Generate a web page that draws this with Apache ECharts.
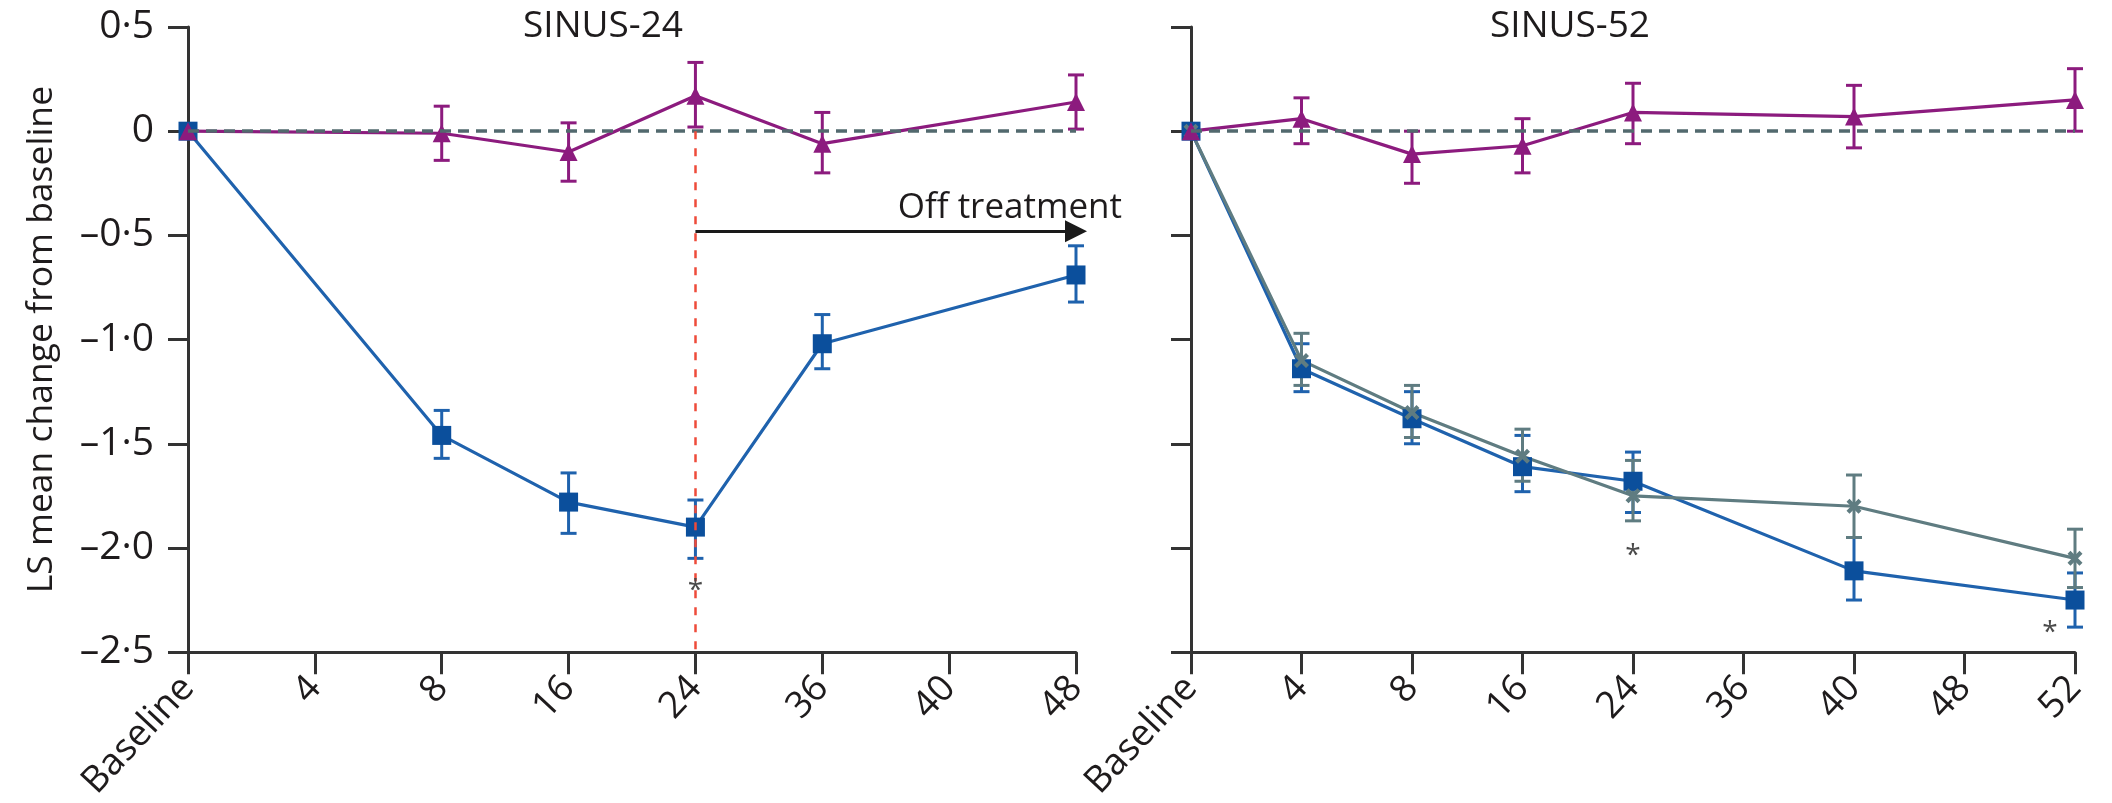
<!DOCTYPE html>
<html>
<head>
<meta charset="utf-8">
<script src="https://cdn.jsdelivr.net/npm/echarts@6/dist/echarts.min.js"></script>
<style>
html,body{margin:0;padding:0;background:#fff;}
#chart{width:2112px;height:803px;}
</style>
</head>
<body>
<div id="chart"></div>
<script>
// ---------- DATA ----------
const categories24 = ['Baseline','4','8','16','24','36','40','48'];
const categories52 = ['Baseline','4','8','16','24','36','40','48','52'];

const yTickValues = [0.5, 0, -0.5, -1.0, -1.5, -2.0, -2.5];
const yTickLabels = ['0·5', '0', '–0·5', '–1·0', '–1·5', '–2·0', '–2·5'];

// SINUS-24
const placebo24   = [0, null, -0.01, -0.10, 0.17, -0.06, null, 0.14];
const placebo24Lo = [null, null, -0.14, -0.24, 0.02, -0.20, null, 0.01];
const placebo24Hi = [null, null, 0.12, 0.04, 0.33, 0.09, null, 0.27];
const dupi24      = [0, null, -1.46, -1.78, -1.90, -1.02, null, -0.69];
const dupi24Lo    = [null, null, -1.57, -1.93, -2.05, -1.14, null, -0.82];
const dupi24Hi    = [null, null, -1.34, -1.64, -1.77, -0.88, null, -0.55];

// SINUS-52
const placebo52   = [0, 0.06, -0.11, -0.07, 0.09, null, 0.07, null, 0.15];
const placebo52Lo = [null, -0.06, -0.25, -0.20, -0.06, null, -0.08, null, 0.00];
const placebo52Hi = [null, 0.16, 0.00, 0.06, 0.23, null, 0.22, null, 0.30];
const dupiQ2w52   = [0, -1.14, -1.38, -1.61, -1.68, null, -2.11, null, -2.25];
const dupiQ2w52Lo = [null, -1.25, -1.50, -1.73, -1.83, null, -2.25, null, -2.38];
const dupiQ2w52Hi = [null, -1.02, -1.25, -1.46, -1.54, null, -1.95, null, -2.12];
const dupiQ4w52   = [0, -1.10, -1.35, -1.56, -1.75, null, -1.80, null, -2.05];
const dupiQ4w52Lo = [null, -1.22, -1.47, -1.68, -1.87, null, -1.95, null, -2.19];
const dupiQ4w52Hi = [null, -0.97, -1.22, -1.43, -1.58, null, -1.65, null, -1.91];

// annotations (category, value)
const asterisks24 = [['24', -2.17]];
const asterisks52 = [['24', -2.00], ['52', -2.37]];
const offTreatmentFrom = ['24', -0.48];
const offTreatmentTo   = ['48', -0.48];
const treatmentEnd = '24';

// ---------- STYLE ----------
const FONT = "'Open Sans', 'Noto Sans', sans-serif";
const TXT = '#1e1b1c';
const AX = '#333333';
const PURPLE = '#8c1b7e';
const BLUE_LINE = '#1f62ad';
const BLUE_MARK = '#0b4f9c';
const GRAY = '#5f7c81';
const ZERO = '#52696e';
const XPATH = 'path://M0,2 L2,0 L5,3 L8,0 L10,2 L7,5 L10,8 L8,10 L5,7 L2,10 L0,8 L3,5 Z';

function yLabel(v){
  const i = yTickValues.findIndex(t => Math.abs(t - v) < 1e-6);
  return i >= 0 ? yTickLabels[i] : '';
}

function errData(cats, lo, hi){
  const out = [];
  cats.forEach((c, i) => { if (lo[i] != null && hi[i] != null) out.push([c, lo[i], hi[i]]); });
  return out;
}

function errSeries(idx, cats, lo, hi, color){
  return {
    type: 'custom', xAxisIndex: idx, yAxisIndex: idx, z: 3,
    data: errData(cats, lo, hi),
    renderItem: function(params, api){
      const x = api.value(0);
      const a = api.coord([x, api.value(1)]);
      const b = api.coord([x, api.value(2)]);
      const cap = 8;
      const st = {stroke: color, lineWidth: 3};
      return {type: 'group', children: [
        {type: 'line', shape: {x1: a[0], y1: a[1], x2: b[0], y2: b[1]}, style: st},
        {type: 'line', shape: {x1: a[0]-cap, y1: a[1], x2: a[0]+cap, y2: a[1]}, style: st},
        {type: 'line', shape: {x1: b[0]-cap, y1: b[1], x2: b[0]+cap, y2: b[1]}, style: st}
      ]};
    }
  };
}

function lineSeries(idx, data, color, markColor, symbol, size, extra){
  return Object.assign({
    type: 'line', xAxisIndex: idx, yAxisIndex: idx, data: data, connectNulls: true,
    symbol: symbol, symbolSize: size, z: 4,
    lineStyle: {color: color, width: 3.2},
    itemStyle: {color: markColor},
    animation: false
  }, extra || {});
}

function asteriskSeries(idx, pts, lastCat){
  return {
    type: 'scatter', xAxisIndex: idx, yAxisIndex: idx, symbolSize: 0, z: 5,
    itemStyle: {opacity: 1},
    data: pts.map(p => ({
      value: p,
      label: {offset: [p[0] === lastCat ? -25 : 0, 8]}
    })),
    label: {show: true, formatter: '*', position: 'inside', fontSize: 28,
            color: '#4a4a4a', fontFamily: FONT}
  };
}

const zeroLine = {
  silent: true, symbol: 'none', animation: false,
  lineStyle: {type: [11, 7], color: ZERO, width: 3.5},
  label: {show: false},
  data: [{yAxis: 0}]
};

function xAxisCfg(idx, cats){
  return {
    type: 'category', gridIndex: idx, data: cats, boundaryGap: false,
    axisLine: {onZero: false, lineStyle: {color: AX, width: 3}},
    axisTick: {show: true, length: 22, interval: 0, lineStyle: {color: AX, width: 3}},
    axisLabel: {interval: 0, rotate: 47, margin: 30, fontSize: 37, color: TXT, fontFamily: FONT},
    splitLine: {show: false}
  };
}

function yAxisCfg(idx, showLabels){
  const cfg = {
    type: 'value', gridIndex: idx, min: -2.5, max: 0.5, interval: 0.5,
    axisLine: {show: true, lineStyle: {color: AX, width: 3}},
    axisTick: {show: true, length: 20, lineStyle: {color: AX, width: 3}},
    axisLabel: {show: showLabels, formatter: yLabel, margin: 34, fontSize: 39, color: TXT, fontFamily: FONT},
    splitLine: {show: false}
  };
  if (showLabels) {
    cfg.name = 'LS mean change from baseline';
    cfg.nameLocation = 'middle';
    cfg.nameGap = 128;
    cfg.nameTextStyle = {fontSize: 35.5, color: TXT, fontFamily: FONT};
  }
  return cfg;
}

const chart = echarts.init(document.getElementById('chart'), null, {renderer: 'canvas'});

const option = {
  animation: false,
  backgroundColor: '#ffffff',
  grid: [
    {left: 188, top: 27, width: 888, height: 631},
    {left: 1191, top: 27, width: 884, height: 631}
  ],
  xAxis: [xAxisCfg(0, categories24), xAxisCfg(1, categories52)],
  yAxis: [yAxisCfg(0, true), yAxisCfg(1, false)],
  graphic: [
    {type: 'text', x: 603, y: 8, style: {text: 'SINUS-24', fill: TXT, font: '37px ' + FONT, textAlign: 'center', textVerticalAlign: 'top'}},
    {type: 'text', x: 1570, y: 8, style: {text: 'SINUS-52', fill: TXT, font: '37px ' + FONT, textAlign: 'center', textVerticalAlign: 'top'}}
  ],
  series: [
    // ---- SINUS-24 ----
    lineSeries(0, dupi24, BLUE_LINE, BLUE_MARK, 'rect', 19, {
      markLine: {
        silent: true, animation: false,
        symbol: ['none', 'triangle'], symbolSize: 22,
        lineStyle: {type: 'solid', color: '#1a1a1a', width: 3},
        label: {show: false},
        data: [[{coord: offTreatmentFrom}, {coord: offTreatmentTo}]]
      }
    }),
    lineSeries(0, placebo24, PURPLE, PURPLE, 'triangle', 18, {
      markLine: {
        silent: true, symbol: 'none', animation: false,
        label: {show: false},
        data: [
          {yAxis: 0, lineStyle: {type: [11, 7], color: ZERO, width: 3.5}},
          [{coord: [treatmentEnd, 0], lineStyle: {type: [8, 9], color: '#ee4b3a', width: 2.5}},
           {coord: [treatmentEnd, -2.5]}]
        ]
      }
    }),
    errSeries(0, categories24, dupi24Lo, dupi24Hi, BLUE_LINE),
    errSeries(0, categories24, placebo24Lo, placebo24Hi, PURPLE),
    asteriskSeries(0, asterisks24, '48'),
    {
      type: 'scatter', xAxisIndex: 0, yAxisIndex: 0, symbolSize: 0, z: 5,
      itemStyle: {opacity: 1},
      data: [offTreatmentTo],
      label: {show: true, formatter: 'Off treatment', position: 'top', align: 'right',
              distance: 6, offset: [46, 0], fontSize: 35, color: TXT, fontFamily: FONT,
              textBorderWidth: 0}
    },
    // ---- SINUS-52 ----
    lineSeries(1, dupiQ2w52, BLUE_LINE, BLUE_MARK, 'rect', 19),
    lineSeries(1, dupiQ4w52, GRAY, GRAY, XPATH, 15),
    lineSeries(1, placebo52, PURPLE, PURPLE, 'triangle', 18, {markLine: zeroLine}),
    errSeries(1, categories52, dupiQ2w52Lo, dupiQ2w52Hi, BLUE_LINE),
    errSeries(1, categories52, dupiQ4w52Lo, dupiQ4w52Hi, GRAY),
    errSeries(1, categories52, placebo52Lo, placebo52Hi, PURPLE),
    asteriskSeries(1, asterisks52, '52')
  ]
};

chart.setOption(option);
</script>
</body>
</html>
